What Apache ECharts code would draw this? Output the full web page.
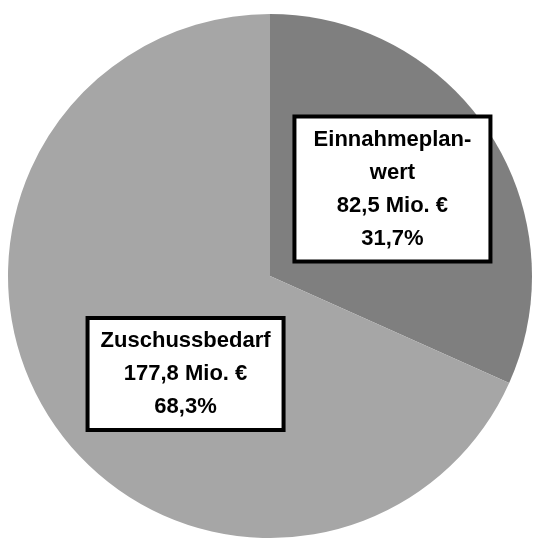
<!DOCTYPE html>
<html>
<head>
<meta charset="utf-8">
<style>
	html, body { margin: 0; padding: 0; background: #fff; }
	#chart_pie { width: 534px; height: 538px; }
</style>
<script src="https://cdn.jsdelivr.net/npm/echarts@6/dist/echarts.min.js"></script>
</head>
<body>
<div id="chart_pie"></div>
<script>
// Daten
var names = ['Einnahmeplan-\nwert', 'Zuschussbedarf'];
var values = [82.5, 177.8];
var valueTexts = ['82,5 Mio. €', '177,8 Mio. €'];
var percentTexts = ['31,7%', '68,3%'];
var colors = ['#7f7f7f', '#a6a6a6'];

var myChart = echarts.init(document.getElementById('chart_pie'));

// Verschiebung der Beschriftung gegenüber der Standardposition
var labelOffsets = [[10, -14], [28, 25]];

var data = [];
for (var i = 0; i < values.length; i++) {
	data.push({
		value: values[i],
		name: names[i],
		itemStyle: { color: colors[i] },
		label: { offset: labelOffsets[i] }
	});
}

var option = {
	animation: false,
	series: [{
		type: 'pie',
		radius: 262,
		center: [270, 276],
		startAngle: 90,
		clockwise: true,
		silent: true,
		itemStyle: {
			borderWidth: 0
		},
		label: {
			show: true,
			position: 'inside',
			formatter: function(p) {
				return p.name + '\n' + valueTexts[p.dataIndex] + '\n' + percentTexts[p.dataIndex];
			},
			color: '#000',
			fontFamily: '"Liberation Sans", Arial, sans-serif',
			fontWeight: 'bold',
			fontSize: 22,
			lineHeight: 33,
			align: 'center',
			width: 188,
			padding: [5, 2, 4, 2],
			backgroundColor: '#fff',
			borderColor: '#000',
			borderWidth: 4
		},
		labelLine: { show: false },
		data: data
	}]
};
myChart.setOption(option);
</script>
</body>
</html>
